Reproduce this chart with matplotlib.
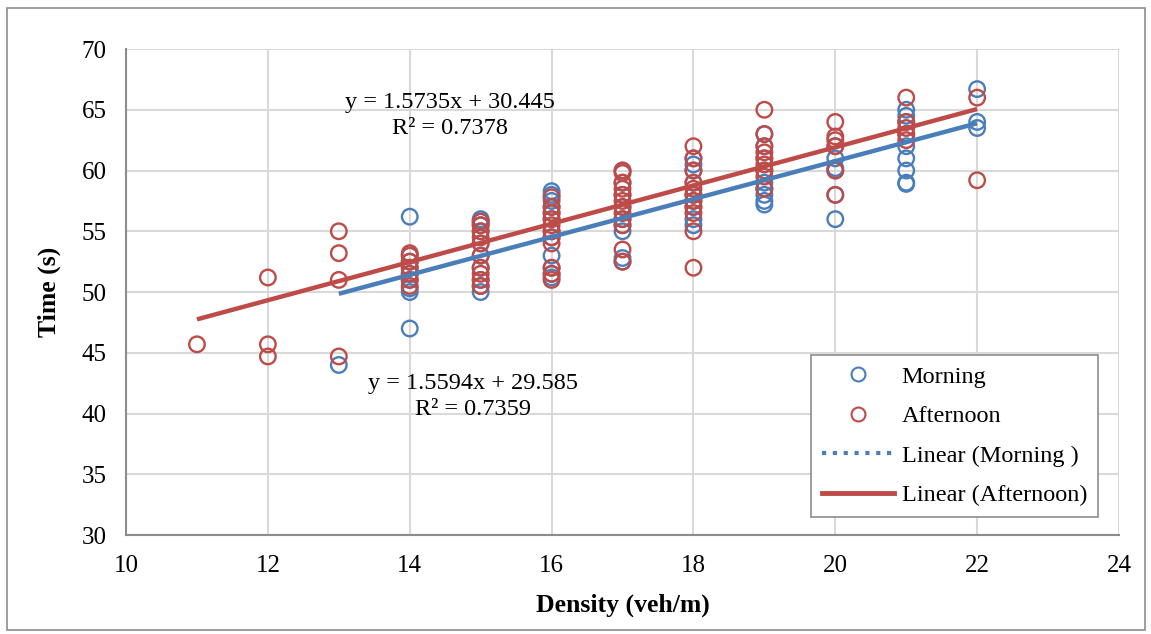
import numpy as np
import matplotlib
matplotlib.use('Agg')
from matplotlib import pyplot as plt
from matplotlib.lines import Line2D
from matplotlib.patches import Rectangle

plt.rcParams['font.family'] = ['Liberation Serif', 'DejaVu Serif']

# 오전 데이터 (Morning)
morning_x = [13,
             14, 14, 14, 14, 14, 14, 14, 14, 14,
             15, 15, 15, 15, 15, 15, 15, 15, 15, 15,
             16, 16, 16, 16, 16, 16, 16, 16, 16, 16, 16, 16,
             17, 17, 17, 17, 17, 17, 17, 17, 17,
             18, 18, 18, 18, 18, 18, 18, 18, 18,
             19, 19, 19, 19, 19, 19, 19, 19, 19,
             20, 20, 20, 20, 20, 20,
             21, 21, 21, 21, 21, 21, 21, 21, 21,
             22, 22, 22]
morning_y = [44.0,
             56.2, 47.0, 50.0, 50.3, 51.0, 51.5, 52.0, 52.5, 53.0,
             50.0, 50.5, 51.0, 52.0, 53.0, 54.0, 55.0, 55.5, 56.0, 55.8,
             58.3, 58.0, 57.5, 57.0, 56.0, 55.0, 54.5, 53.0, 52.0, 51.5, 51.2, 56.5,
             52.5, 52.8, 55.0, 55.5, 56.0, 57.0, 58.0, 59.0, 60.0,
             61.0, 60.5, 60.0, 59.0, 58.0, 57.0, 56.0, 55.5, 57.5,
             57.2, 57.5, 58.0, 58.5, 59.0, 60.0, 61.0, 62.0, 63.0,
             56.0, 58.0, 60.0, 60.2, 61.0, 62.0,
             59.0, 58.9, 60.0, 61.0, 62.0, 63.0, 64.0, 64.5, 65.0,
             66.7, 64.0, 63.5]

# 오후 데이터 (Afternoon)
afternoon_x = [11,
               12, 12, 12,
               13, 13, 13, 13,
               14, 14, 14, 14, 14, 14, 14,
               15, 15, 15, 15, 15, 15, 15, 15, 15, 15,
               16, 16, 16, 16, 16, 16, 16, 16, 16, 16, 16,
               17, 17, 17, 17, 17, 17, 17, 17, 17, 17, 17, 17,
               18, 18, 18, 18, 18, 18, 18, 18, 18, 18, 18,
               19, 19, 19, 19, 19, 19, 19, 19, 19,
               20, 20, 20, 20, 20, 20,
               21, 21, 21, 21, 21,
               22, 22]
afternoon_y = [45.7,
               51.2, 45.7, 44.7,
               55.0, 53.2, 51.0, 44.7,
               53.2, 53.0, 52.5, 52.0, 51.5, 51.0, 50.5,
               55.8, 55.5, 55.0, 54.5, 54.0, 53.0, 52.0, 51.5, 51.0, 50.5,
               57.8, 57.0, 56.5, 56.0, 55.5, 55.0, 54.5, 54.0, 52.0, 51.5, 51.0,
               60.0, 59.8, 59.0, 58.5, 58.0, 57.5, 57.0, 56.5, 56.0, 55.5, 53.5, 52.5,
               62.0, 61.0, 60.0, 59.0, 58.5, 58.0, 57.5, 57.0, 56.5, 55.0, 52.0,
               65.0, 63.0, 62.0, 61.5, 61.0, 60.5, 60.0, 59.5, 58.5,
               64.0, 62.8, 62.5, 62.0, 60.0, 58.0,
               66.0, 64.0, 63.5, 63.0, 62.5,
               66.0, 59.2]

# 추세선 계수 (그림에 표시된 식)
morning_fit = (1.5594, 29.585)
afternoon_fit = (1.5735, 30.445)
morning_eq = 'y = 1.5594x + 29.585\nR² = 0.7359'
afternoon_eq = 'y = 1.5735x + 30.445\nR² = 0.7378'

blue = '#4a7ebb'
red = '#be4b48'

fig = plt.figure(figsize=(11.51, 6.34), dpi=100)
ax = fig.add_axes([0.1095, 0.156, 0.8627, 0.7667])

ax.scatter(morning_x, morning_y, s=125, facecolors='none', edgecolors=blue,
           linewidths=1.7, zorder=3)
ax.scatter(afternoon_x, afternoon_y, s=125, facecolors='none', edgecolors=red,
           linewidths=1.7, zorder=3)

# 추세선
mx = np.array([min(morning_x), max(morning_x)])
ax.plot(mx, morning_fit[0] * mx + morning_fit[1], color=blue, lw=3.2,
        solid_capstyle='butt', zorder=4)
ax_ = np.array([min(afternoon_x), max(afternoon_x)])
ax.plot(ax_, afternoon_fit[0] * ax_ + afternoon_fit[1], color=red, lw=3.2,
        solid_capstyle='butt', zorder=4)

ax.text(14.57, 64.5, afternoon_eq, ha='center', va='center', multialignment='center',
        fontsize=17.5, linespacing=1.3, zorder=5)
ax.text(14.89, 41.4, morning_eq, ha='center', va='center', multialignment='center',
        fontsize=17.5, linespacing=1.3, zorder=5)

ax.set_xlim(10, 24)
ax.set_ylim(30, 70)
ax.set_xticks(range(10, 25, 2))
ax.set_yticks(range(30, 71, 5))
ax.grid(True, color='#d9d9d9', lw=1.5)
ax.set_axisbelow(True)
for s in ['top', 'right']:
    ax.spines[s].set_visible(False)
for s in ['left', 'bottom']:
    ax.spines[s].set_color('#8c8c8c')
    ax.spines[s].set_linewidth(1.5)
ax.tick_params(length=0, labelsize=18)
ax.tick_params(axis='x', pad=14)
ax.tick_params(axis='y', pad=14)

ax.set_xlabel('Density (veh/m)', fontsize=18.5, fontweight='bold', labelpad=12)
ax.set_ylabel('Time (s)', fontsize=18.5, fontweight='bold', labelpad=15)

handles = [
    Line2D([], [], ls='none', marker='o', mfc='none', mec=blue, ms=10, mew=1.5),
    Line2D([], [], ls='none', marker='o', mfc='none', mec=red, ms=10, mew=1.5),
    Line2D([], [], color=blue, ls=(0, (1, 1.6)), lw=3),
    Line2D([], [], color=red, lw=3.5),
]
labels = ['Morning', 'Afternoon', 'Linear (Morning )', 'Linear (Afternoon)']
leg = ax.legend(handles, labels, loc='lower right', bbox_to_anchor=(0.979, 0.037),
                borderaxespad=0, fontsize=17.5, fancybox=False, framealpha=1,
                edgecolor='#8c8c8c', handlelength=3.0, labelspacing=0.72,
                handletextpad=0.3, borderpad=0.45)
leg.get_frame().set_linewidth(1.2)

# 외곽 테두리
fig.patches.append(Rectangle((0.006, 0.006), 0.989, 0.981, transform=fig.transFigure,
                             fill=False, edgecolor='#8c8c8c', lw=1.2))

plt.savefig('out.png', dpi=100)
